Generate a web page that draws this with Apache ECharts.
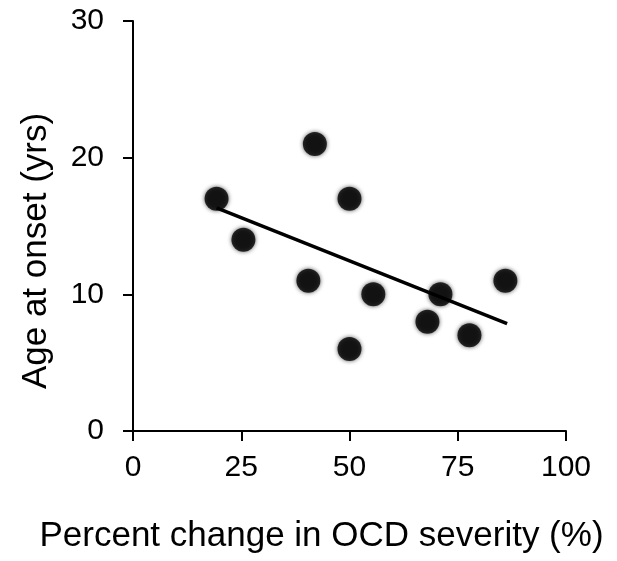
<!DOCTYPE html>
<html>
<head>
<meta charset="utf-8">
<script src="https://cdn.jsdelivr.net/npm/echarts@6/dist/echarts.min.js"></script>
<style>
  html, body { margin: 0; padding: 0; background: #fff; }
  #main { width: 617px; height: 561px; }
</style>
</head>
<body>
<div id="main"></div>
<script>
// percent change in OCD severity (%) vs age at onset (yrs)
let changeVals = [19.3, 25.5, 42, 40.5, 50, 55.5, 50, 68, 71, 77.7, 86]
let onsetVals = [17, 14, 21, 11, 17, 10, 6, 8, 10, 7, 11]
// trend line end points
let fitX = [19.3, 86.4]
let fitY = [16.33, 7.86]
let xTicks = [0, 25, 50, 75, 100]
let yTicks = [0, 10, 20, 30]

let points = changeVals.map((v, i) => [v, onsetVals[i]])
let fitLine = fitX.map((v, i) => [v, fitY[i]])

let font = '"Liberation Sans", Arial, sans-serif'
let axisCommon = {
  axisLine: { show: true, lineStyle: { color: '#000', width: 2 } },
  axisTick: { show: true, inside: false, length: 10, lineStyle: { color: '#000', width: 2 } },
  splitLine: { show: false },
  axisLabel: { color: '#000', fontSize: 30, fontFamily: font }
}

let chart = echarts.init(document.getElementById('main'), null, { renderer: 'canvas' })
chart.setOption({
  animation: false,
  backgroundColor: '#fff',
  grid: { left: 133, right: 51, top: 21, bottom: 130 },
  xAxis: Object.assign({}, axisCommon, {
    type: 'value',
    min: xTicks[0],
    max: xTicks[xTicks.length - 1],
    interval: 25,
    name: 'Percent change in OCD severity (%)',
    nameLocation: 'middle',
    nameGap: 88,
    nameTextStyle: { color: '#000', fontSize: 35, fontFamily: font, padding: [0, 56, 0, 0] },
    axisLabel: Object.assign({}, axisCommon.axisLabel, { margin: 22 })
  }),
  yAxis: Object.assign({}, axisCommon, {
    type: 'value',
    min: yTicks[0],
    max: yTicks[yTicks.length - 1],
    interval: 10,
    name: 'Age at onset (yrs)',
    nameLocation: 'middle',
    nameGap: 79,
    nameTextStyle: { color: '#000', fontSize: 35, fontFamily: font, padding: [0, 50, 0, 0] },
    axisLabel: Object.assign({}, axisCommon.axisLabel, { margin: 29 })
  }),
  series: [
    {
      type: 'line',
      data: fitLine,
      showSymbol: false,
      symbol: 'none',
      lineStyle: { color: '#000', width: 3.5 },
      z: 2
    },
    {
      type: 'scatter',
      data: points,
      symbol: 'circle',
      symbolSize: 24,
      itemStyle: {
        color: '#000',
        shadowBlur: 4,
        shadowColor: 'rgba(0,0,0,0.8)'
      },
      z: 3
    }
  ]
})
</script>
</body>
</html>
